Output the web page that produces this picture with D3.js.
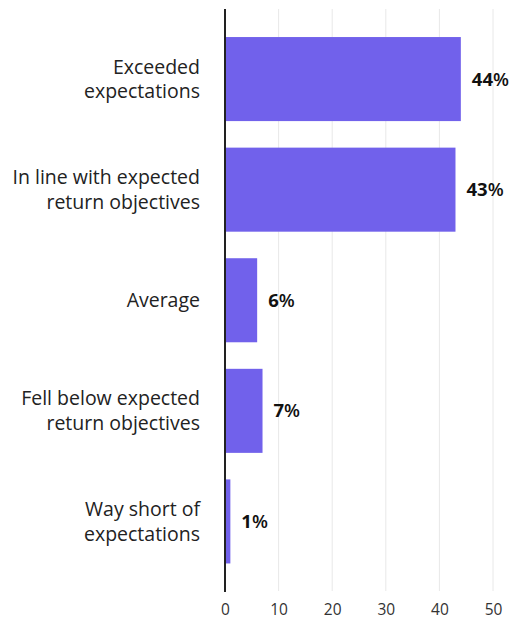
<!DOCTYPE html>
<html>
<head>
<meta charset="utf-8">
<script src="https://cdn.jsdelivr.net/npm/d3@7"></script>
<style>
  html, body { margin: 0; padding: 0; background: #fff; }
  svg { display: block; font-family: "Open Sans", "Noto Sans", sans-serif; }
</style>
</head>
<body>
<svg id="chart" width="515" height="619"></svg>
<script>
// Survey responses: how returns compared with expectations
const categories = [
  ["Exceeded", "expectations"],
  ["In line with expected", "return objectives"],
  ["Average"],
  ["Fell below expected", "return objectives"],
  ["Way short of", "expectations"]
];
const values = [44, 43, 6, 7, 1];
const xTicks = [0, 10, 20, 30, 40, 50];

(function draw() {
  const svg = d3.select("#chart");
  const plotLeft = 225, plotRight = 493, plotTop = 10.5, plotBottom = 590;
  const labelSize = 19.5, lineGap = 24.5;

  const x = d3.scaleLinear().domain([0, 50]).range([plotLeft, plotRight]);
  const y = d3.scaleBand().domain(d3.range(values.length)).range([plotTop, plotBottom]).padding(0.24);

  // gridlines
  svg.append("g").selectAll("line").data(xTicks.filter(d => d > 0)).join("line")
    .attr("x1", d => x(d)).attr("x2", d => x(d))
    .attr("y1", 9).attr("y2", 591)
    .attr("stroke", "#e8e8e8").attr("stroke-width", 1);

  // bars
  svg.append("g").selectAll("rect").data(values).join("rect")
    .attr("x", x(0))
    .attr("y", (d, i) => y(i))
    .attr("width", d => x(d) - x(0))
    .attr("height", y.bandwidth())
    .attr("fill", "#7161eb");

  // value labels
  const vl = svg.append("g").selectAll("text").data(values).join("text")
    .attr("x", d => x(d) + 11)
    .attr("y", (d, i) => y(i) + y.bandwidth() / 2)
    .attr("dy", "0.35em")
    .attr("font-size", 18.5)
    .attr("fill", "#111");
  vl.append("tspan").attr("font-weight", 700).text(d => d);
  vl.append("tspan").attr("font-weight", 600).text("%");

  // category labels, one or two lines centred on each bar
  const cl = svg.append("g").selectAll("text").data(categories).join("text")
    .attr("text-anchor", "end")
    .attr("font-size", labelSize)
    .attr("fill", "#222")
    .attr("y", (d, i) => y(i) + y.bandwidth() / 2);
  cl.selectAll("tspan").data(d => d.map((t, j) => ({t, j, n: d.length}))).join("tspan")
    .attr("x", 200)
    .attr("dy", d => d.j === 0 ? (0.35 * labelSize - (d.n - 1) * lineGap / 2) : lineGap)
    .text(d => d.t);

  // x axis
  const xAxis = d3.axisBottom(x).tickValues(xTicks).tickSize(0).tickPadding(14);
  const ax = svg.append("g").attr("transform", `translate(0,${plotBottom})`).call(xAxis);
  ax.select(".domain").remove();
  ax.selectAll("text").attr("font-size", 15.5).attr("fill", "#333").attr("font-family", "\"Open Sans\", sans-serif");

  // baseline
  svg.append("line")
    .attr("x1", x(0)).attr("x2", x(0))
    .attr("y1", 9).attr("y2", 592)
    .attr("stroke", "#222").attr("stroke-width", 2);
})();
</script>
</body>
</html>
